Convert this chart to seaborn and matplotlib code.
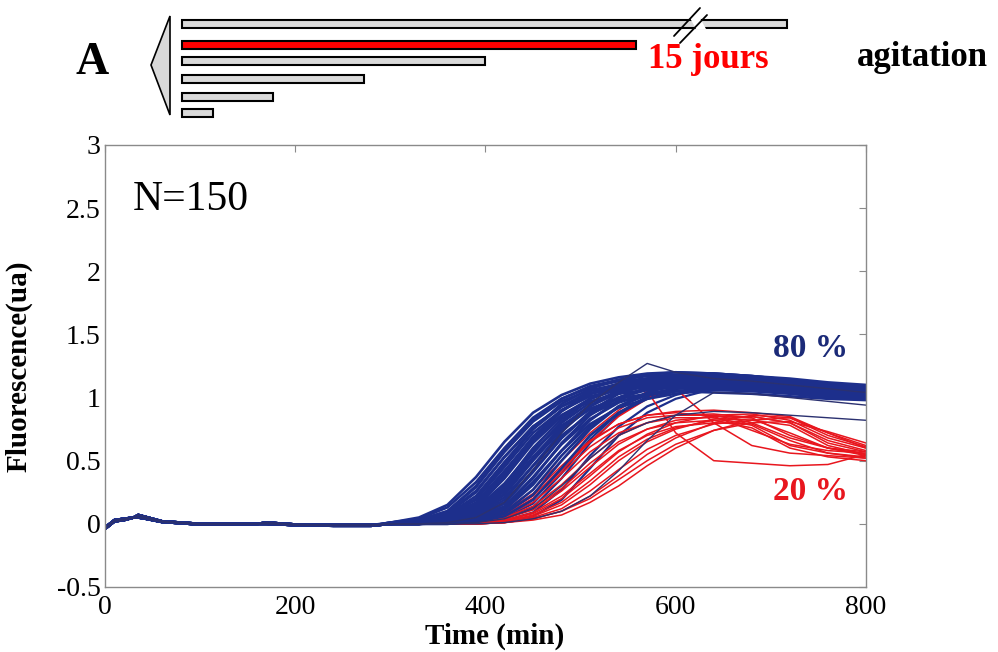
import numpy as np
import pandas as pd
import matplotlib
matplotlib.use('Agg')
import matplotlib.pyplot as plt
from matplotlib.patches import Polygon
import seaborn as sns

sns.set_style('white')
plt.rcParams['font.family'] = ['Liberation Serif', 'DejaVu Serif']
plt.rcParams['text.color'] = 'black'
plt.rcParams['axes.labelcolor'] = 'black'
plt.rcParams['xtick.color'] = 'black'
plt.rcParams['ytick.color'] = 'black'

# --- data ---
# shared lag phase (0-280 min), two slightly different traces
t_base = [0, 5, 10, 20, 30, 35, 40, 50, 60, 80, 100, 130, 160, 170, 200, 240, 280]
base_a = [-0.04, -0.01, 0.02, 0.03, 0.05, 0.07, 0.06, 0.04, 0.02, 0.01, 0.0, 0.0, 0.0, 0.01, -0.005, -0.01, -0.01]
base_b = [-0.03, 0.0, 0.03, 0.04, 0.05, 0.05, 0.045, 0.03, 0.015, 0.005, -0.005, -0.005, 0.0, 0.0, -0.01, -0.015, -0.015]

# growth phase, 300-800 min
t_late = [300, 330, 360, 390, 420, 450, 480, 510, 540, 570, 600, 640, 680, 720, 760, 800]

blue_late = [
    [0.01, 0.05, 0.15, 0.37, 0.65, 0.88, 1.02, 1.11, 1.16, 1.19, 1.2, 1.19, 1.17, 1.15, 1.12, 1.1],
    [0.01, 0.04, 0.13, 0.33, 0.6, 0.84, 0.99, 1.08, 1.13, 1.15, 1.16, 1.15, 1.13, 1.11, 1.09, 1.07],
    [0.0, 0.03, 0.09, 0.26, 0.53, 0.77, 0.93, 1.03, 1.08, 1.11, 1.12, 1.11, 1.09, 1.07, 1.05, 1.03],
    [0.01, 0.03, 0.1, 0.3, 0.59, 0.83, 0.99, 1.09, 1.14, 1.17, 1.18, 1.17, 1.15, 1.13, 1.11, 1.09],
    [0.0, 0.02, 0.08, 0.25, 0.53, 0.77, 0.93, 1.03, 1.08, 1.1, 1.1, 1.09, 1.07, 1.05, 1.02, 1.0],
    [0.0, 0.02, 0.07, 0.22, 0.49, 0.75, 0.93, 1.05, 1.11, 1.14, 1.15, 1.14, 1.12, 1.1, 1.08, 1.06],
    [0.0, 0.015, 0.06, 0.2, 0.47, 0.75, 0.95, 1.07, 1.14, 1.18, 1.2, 1.19, 1.17, 1.14, 1.11, 1.08],
    [0.0, 0.01, 0.05, 0.17, 0.42, 0.68, 0.86, 0.97, 1.03, 1.06, 1.08, 1.07, 1.06, 1.04, 1.02, 1.0],
    [0.0, 0.01, 0.05, 0.16, 0.41, 0.69, 0.9, 1.03, 1.1, 1.13, 1.14, 1.13, 1.11, 1.09, 1.07, 1.05],
    [0.0, 0.01, 0.04, 0.14, 0.38, 0.67, 0.89, 1.03, 1.11, 1.15, 1.17, 1.16, 1.14, 1.12, 1.1, 1.08],
    [0.0, 0.01, 0.04, 0.13, 0.36, 0.64, 0.85, 0.99, 1.07, 1.1, 1.12, 1.11, 1.1, 1.08, 1.06, 1.04],
    [0.0, 0.01, 0.03, 0.12, 0.32, 0.58, 0.78, 0.91, 0.99, 1.03, 1.05, 1.04, 1.03, 1.01, 0.99, 0.98],
    [0.0, 0.0, 0.03, 0.11, 0.31, 0.6, 0.83, 0.99, 1.08, 1.13, 1.15, 1.16, 1.14, 1.12, 1.09, 1.06],
    [0.0, 0.0, 0.03, 0.1, 0.29, 0.57, 0.8, 0.96, 1.05, 1.1, 1.12, 1.13, 1.11, 1.09, 1.06, 1.04],
    [0.0, 0.0, 0.025, 0.09, 0.27, 0.56, 0.81, 0.99, 1.1, 1.15, 1.18, 1.19, 1.17, 1.14, 1.11, 1.09],
    [0.0, 0.0, 0.02, 0.08, 0.24, 0.51, 0.75, 0.91, 1.0, 1.06, 1.09, 1.1, 1.09, 1.07, 1.04, 1.02],
    [0.0, 0.0, 0.02, 0.08, 0.23, 0.5, 0.75, 0.93, 1.04, 1.1, 1.13, 1.14, 1.13, 1.1, 1.07, 1.05],
    [0.0, 0.0, 0.02, 0.07, 0.21, 0.46, 0.7, 0.87, 0.97, 1.02, 1.05, 1.07, 1.06, 1.04, 1.01, 0.99],
    [0.0, 0.0, 0.015, 0.06, 0.19, 0.46, 0.73, 0.93, 1.06, 1.13, 1.16, 1.17, 1.16, 1.13, 1.1, 1.07],
    [0.0, 0.0, 0.01, 0.05, 0.17, 0.42, 0.68, 0.88, 1.0, 1.07, 1.1, 1.12, 1.11, 1.09, 1.06, 1.03],
    [0.0, 0.0, 0.01, 0.05, 0.16, 0.41, 0.68, 0.89, 1.03, 1.1, 1.13, 1.15, 1.14, 1.11, 1.08, 1.05],
    [0.0, 0.0, 0.01, 0.04, 0.14, 0.37, 0.63, 0.83, 0.96, 1.03, 1.07, 1.09, 1.08, 1.06, 1.03, 1.01],
    [0.0, 0.0, 0.01, 0.04, 0.13, 0.36, 0.64, 0.86, 1.0, 1.08, 1.11, 1.13, 1.12, 1.1, 1.07, 1.04],
    [0.0, 0.0, 0.01, 0.03, 0.12, 0.33, 0.58, 0.79, 0.92, 0.99, 1.03, 1.06, 1.05, 1.03, 1.0, 0.99],
    [0.0, 0.0, 0.005, 0.03, 0.11, 0.31, 0.58, 0.82, 0.98, 1.08, 1.13, 1.16, 1.15, 1.12, 1.09, 1.06],
    [0.0, 0.0, 0.005, 0.025, 0.09, 0.27, 0.54, 0.77, 0.93, 1.02, 1.07, 1.1, 1.09, 1.07, 1.04, 1.02],
    [0.0, 0.0, 0.0, 0.02, 0.08, 0.23, 0.5, 0.75, 0.93, 1.04, 1.1, 1.13, 1.12, 1.1, 1.07, 1.04],
    [0.0, 0.0, 0.0, 0.015, 0.06, 0.19, 0.44, 0.7, 0.88, 0.99, 1.05, 1.08, 1.07, 1.05, 1.02, 1.0],
    [0.0, 0.02, 0.06, 0.19, 0.45, 0.72, 0.9, 1.01, 1.06, 1.09, 1.1, 1.09, 1.07, 1.05, 1.03, 1.01],
    [0.01, 0.03, 0.1, 0.29, 0.57, 0.81, 0.97, 1.06, 1.1, 1.12, 1.14, 1.13, 1.11, 1.09, 1.06, 1.03],
    [0.0, 0.01, 0.04, 0.15, 0.4, 0.66, 0.86, 0.99, 1.07, 1.12, 1.15, 1.15, 1.13, 1.11, 1.08, 1.06],
    [0.0, 0.0, 0.02, 0.09, 0.26, 0.53, 0.77, 0.94, 1.04, 1.09, 1.12, 1.13, 1.12, 1.09, 1.06, 1.03],
]

# blue cells that switch on late (drawn under the red ones)
blue_slow = [
    [0.0, 0.0, 0.0, 0.01, 0.05, 0.16, 0.4, 0.67, 0.88, 1.01, 1.07, 1.1, 1.1, 1.08, 1.05, 1.02],
    [0.0, 0.0, 0.0, 0.01, 0.04, 0.13, 0.36, 0.64, 0.86, 1.0, 1.08, 1.12, 1.11, 1.09, 1.06, 1.03],
    [0.0, 0.0, 0.0, 0.005, 0.025, 0.09, 0.27, 0.54, 0.77, 0.93, 1.02, 1.09, 1.1, 1.08, 1.05, 1.02],
    [0.0, 0.0, 0.0, 0.0, 0.015, 0.06, 0.19, 0.44, 0.7, 0.88, 0.99, 1.07, 1.08, 1.06, 1.03, 1.01],
]

# a few atypical blue cells (overshoot, late start, low plateau)
blue_odd = [
    [0.0, 0.0, 0.01, 0.05, 0.17, 0.43, 0.72, 0.95, 1.12, 1.27, 1.2, 1.15, 1.13, 1.1, 1.07, 1.04],
    [0.0, 0.0, 0.0, 0.0, 0.01, 0.04, 0.1, 0.22, 0.42, 0.66, 0.86, 1.04, 1.03, 1.0, 0.97, 0.94],
    [0.0, 0.0, 0.0, 0.01, 0.04, 0.12, 0.3, 0.52, 0.7, 0.8, 0.86, 0.89, 0.88, 0.86, 0.84, 0.82],
]

red_late = [
    [0.0, 0.0, 0.01, 0.03, 0.09, 0.24, 0.46, 0.66, 0.79, 0.86, 0.88, 0.85, 0.74, 0.63, 0.58, 0.56],
    [0.0, 0.0, 0.005, 0.02, 0.07, 0.2, 0.4, 0.61, 0.76, 0.84, 0.86, 0.86, 0.8, 0.68, 0.6, 0.57],
    [0.0, 0.0, 0.0, 0.02, 0.06, 0.17, 0.36, 0.57, 0.72, 0.8, 0.84, 0.84, 0.78, 0.62, 0.56, 0.53],
    [0.0, 0.0, 0.0, 0.015, 0.05, 0.14, 0.31, 0.52, 0.7, 0.8, 0.86, 0.87, 0.84, 0.7, 0.6, 0.55],
    [0.0, 0.0, 0.0, 0.01, 0.04, 0.12, 0.28, 0.48, 0.65, 0.75, 0.8, 0.82, 0.76, 0.6, 0.53, 0.5],
    [0.0, 0.0, 0.0, 0.01, 0.04, 0.11, 0.26, 0.45, 0.63, 0.75, 0.82, 0.85, 0.85, 0.8, 0.66, 0.58],
    [0.0, 0.0, 0.0, 0.01, 0.03, 0.09, 0.22, 0.4, 0.58, 0.7, 0.77, 0.8, 0.79, 0.66, 0.56, 0.52],
    [0.0, 0.0, 0.0, 0.01, 0.03, 0.08, 0.2, 0.38, 0.57, 0.71, 0.8, 0.86, 0.87, 0.82, 0.68, 0.6],
    [0.0, 0.0, 0.0, 0.0, 0.02, 0.07, 0.17, 0.34, 0.53, 0.67, 0.76, 0.82, 0.83, 0.72, 0.6, 0.54],
    [0.0, 0.0, 0.0, 0.0, 0.02, 0.06, 0.15, 0.31, 0.5, 0.65, 0.75, 0.83, 0.85, 0.8, 0.64, 0.57],
    [0.0, 0.0, 0.0, 0.0, 0.01, 0.05, 0.12, 0.26, 0.43, 0.59, 0.7, 0.79, 0.82, 0.78, 0.62, 0.55],
    [0.0, 0.0, 0.0, 0.0, 0.01, 0.04, 0.1, 0.22, 0.38, 0.55, 0.68, 0.8, 0.86, 0.84, 0.7, 0.61],
    [0.0, 0.0, 0.0, 0.0, 0.01, 0.03, 0.07, 0.17, 0.3, 0.46, 0.6, 0.74, 0.82, 0.84, 0.72, 0.62],
    [0.0, 0.0, 0.01, 0.03, 0.1, 0.27, 0.5, 0.72, 0.9, 1.05, 0.72, 0.5, 0.48, 0.46, 0.47, 0.55],
    [0.0, 0.0, 0.0, 0.02, 0.07, 0.2, 0.42, 0.65, 0.85, 0.99, 1.07, 0.8, 0.62, 0.56, 0.54, 0.52],
    [0.0, 0.0, 0.01, 0.03, 0.08, 0.22, 0.44, 0.65, 0.79, 0.86, 0.89, 0.9, 0.88, 0.85, 0.72, 0.6],
    [0.0, 0.0, 0.0, 0.0, 0.01, 0.04, 0.1, 0.2, 0.35, 0.5, 0.63, 0.74, 0.8, 0.81, 0.73, 0.64],
]

x_ticks = [0, 200, 400, 600, 800]
y_ticks = [-0.5, 0, 0.5, 1, 1.5, 2, 2.5, 3]
y_tick_labels = ['-0.5', '0', '0.5', '1', '1.5', '2', '2.5', '3']

# schematic on top: relative durations of the six conditions
scheme_len = [605, 454, 303, 182, 91, 31]
scheme_pos = [23.5, 44.5, 61, 79, 96.5, 113]
scheme_col = ['#d9d9d9', '#ff0000', '#d9d9d9', '#d9d9d9', '#d9d9d9', '#d9d9d9']

BLUE = '#1d2f8c'
BLUE_DARK = '#2b3170'
RED = '#e8161e'


def to_frame(curves):
    rows = []
    for i, late in enumerate(curves):
        base = base_a if i % 2 == 0 else base_b
        for t, f in zip(t_base + t_late, base + late):
            rows.append((i, t, f))
    return pd.DataFrame(rows, columns=['cell', 'time', 'fluo'])


fig = plt.figure(figsize=(9.98, 6.52), dpi=100)
ax = fig.add_axes([0.1052, 0.0997, 0.7625, 0.678])

layers = [
    (blue_slow, BLUE, 1.6),
    (red_late, RED, 1.1),
    (blue_late, BLUE, 1.9),
    (blue_odd, BLUE_DARK, 1.0),
]
for curves, c, lw in layers:
    sns.lineplot(data=to_frame(curves), x='time', y='fluo', units='cell',
                 estimator=None, sort=False, color=c, lw=lw, legend=False, ax=ax)

ax.set_xlim(0, 800)
ax.set_ylim(-0.5, 3)
ax.set_xticks(x_ticks)
ax.set_yticks(y_ticks)
ax.set_yticklabels(y_tick_labels)
ax.tick_params(direction='in', length=5, width=0.8, color='#8a8a8a',
               labelcolor='black', top=True, right=True, labelsize=20, pad=6)
ax.tick_params(axis='y', pad=3)
for s in ax.spines.values():
    s.set_color('#8a8a8a')
    s.set_linewidth(1.0)

ax.set_xlabel('Time (min)', fontsize=21, fontweight='bold')
ax.set_ylabel('Fluorescence(ua)', fontsize=21, fontweight='bold')
ax.xaxis.set_label_coords(0.5125, -0.08)
ax.yaxis.set_label_coords(-0.095, 0.5)

ax.text(0.037, 0.875, 'N=150', transform=ax.transAxes, fontsize=30,
        ha='left', va='center')
ax.text(0.927, 0.54, '80 %', transform=ax.transAxes, fontsize=24,
        fontweight='bold', color='#1b2a78', ha='center', va='center')
ax.text(0.927, 0.215, '20 %', transform=ax.transAxes, fontsize=24,
        fontweight='bold', color=RED, ha='center', va='center')

# top schematic, drawn in pixel-like units
top = fig.add_axes([0, 1 - 130 / 652, 1, 130 / 652])
top.set_xlim(0, 998)
top.set_ylim(130, 0)
top.axis('off')
top.barh(scheme_pos, scheme_len, left=182, height=8, color=scheme_col,
         edgecolor='black', linewidth=1.5)
top.add_patch(Polygon([(151, 65), (170, 16), (170, 115)], closed=True,
                      facecolor='#d9d9d9', edgecolor='black', lw=1.2))
# break marks on the longest bar
top.add_patch(Polygon([(690, 18), (700, 18), (706, 29), (696, 29)],
                      closed=True, facecolor='white', edgecolor='none', zorder=3))
top.plot([674, 700], [36, 8], color='black', lw=1.3, zorder=4)
top.plot([680, 707], [43, 15], color='black', lw=1.3, zorder=4)

top.text(92, 63, 'A', fontsize=33, fontweight='bold', ha='center', va='center')
top.text(708, 59, '15 jours', fontsize=25, fontweight='bold', color='#ff0000',
         ha='center', va='center')
top.text(922, 58, 'agitation', fontsize=25, fontweight='bold',
         ha='center', va='center')

fig.savefig('out.png', dpi=100)
